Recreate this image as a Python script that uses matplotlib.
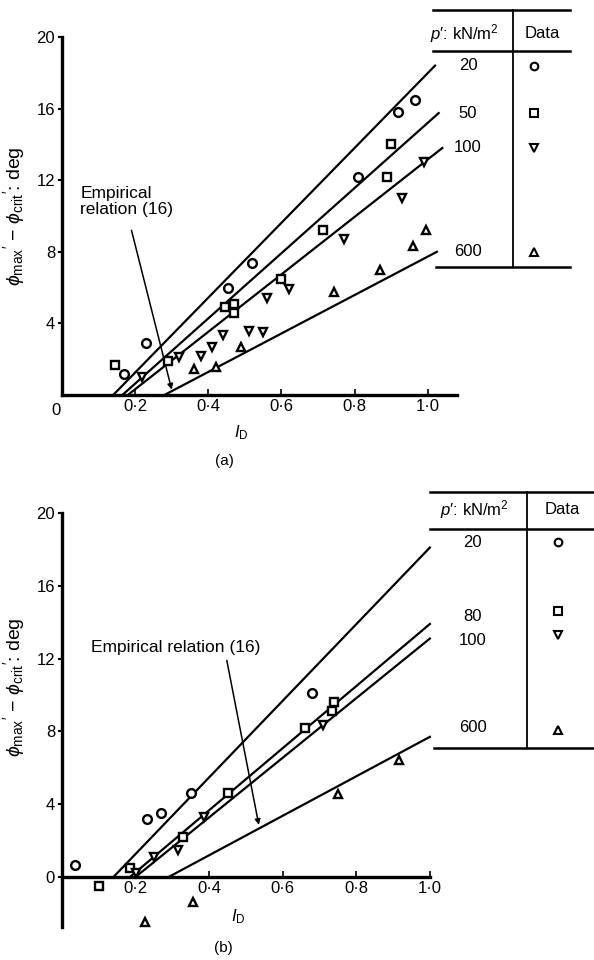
"""
Two-panel chart: phi_max' - phi_crit' against relative density I_D,
with fitted lines per mean stress and a small key table at the right.
"""
import matplotlib
matplotlib.use("Agg")
import matplotlib.pyplot as plt

plt.rcParams["font.family"] = ["Liberation Sans", "DejaVu Sans"]
plt.rcParams["mathtext.fontset"] = "custom"
plt.rcParams["mathtext.rm"] = "Liberation Sans"
plt.rcParams["mathtext.it"] = "Liberation Sans:italic"

# ---- panel (a) data -------------------------------------------------------
a_pressures = ["20", "50", "100", "600"]
a_markers = ["o", "s", "v", "^"]
a_line_x0 = [0.14, 0.165, 0.18, 0.28]          # I_D where line meets 0
a_line_x1 = [1.02, 1.03, 1.04, 1.025]
a_line_y1 = [18.4, 15.75, 13.8, 8.0]

a_c_x = [0.23, 0.17, 0.455, 0.52, 0.81, 0.92, 0.965]
a_c_y = [2.9, 1.2, 6.0, 7.4, 12.2, 15.8, 16.5]
a_s_x = [0.145, 0.29, 0.445, 0.47, 0.47, 0.60, 0.715, 0.89, 0.90]
a_s_y = [1.7, 1.9, 4.9, 5.1, 4.6, 6.5, 9.2, 12.2, 14.0]
a_v_x = [0.22, 0.32, 0.38, 0.41, 0.44, 0.51, 0.55, 0.56, 0.62, 0.77, 0.93, 0.99]
a_v_y = [1.0, 2.1, 2.2, 2.7, 3.35, 3.6, 3.5, 5.4, 5.9, 8.7, 11.0, 13.0]
a_t_x = [0.36, 0.42, 0.49, 0.745, 0.87, 0.96, 0.995]
a_t_y = [1.45, 1.55, 2.7, 5.75, 7.0, 8.3, 9.2]

# ---- panel (b) data -------------------------------------------------------
b_pressures = ["20", "80", "100", "600"]
b_markers = ["o", "s", "v", "^"]
b_line_x0 = [0.14, 0.185, 0.20, 0.29]
b_line_x1 = [1.0, 1.0, 1.0, 1.0]
b_line_y1 = [18.1, 13.9, 13.1, 7.7]
b_row_y = [18.4, 14.3, 13.0, 8.2]
b_mark_y = [18.4, 14.6, 13.3, 8.1]

b_c_x = [0.035, 0.23, 0.27, 0.35, 0.68]
b_c_y = [0.66, 3.2, 3.5, 4.6, 10.1]
b_s_x = [0.10, 0.185, 0.33, 0.45, 0.66, 0.735, 0.74]
b_s_y = [-0.5, 0.5, 2.2, 4.6, 8.2, 9.1, 9.6]
b_v_x = [0.20, 0.25, 0.315, 0.385, 0.71]
b_v_y = [0.2, 1.1, 1.5, 3.3, 8.35]
b_t_x = [0.225, 0.356, 0.75, 0.915]
b_t_y = [-2.5, -1.4, 4.55, 6.4]

x_ticks = [0.2, 0.4, 0.6, 0.8, 1.0]
x_ticklabels = ["0·2", "0·4", "0·6", "0·8", "1·0"]
y_ticks = [4, 8, 12, 16, 20]

YLABEL = r"$\phi_{\rm max}$$'$ $-$ $\phi_{\rm crit}$$'$: deg"
FS = 12
MS = 6.3


def draw_points(ax, xs, ys, marker):
    ax.plot(xs, ys, linestyle="none", marker=marker, ms=MS, mfc="white",
            mec="black", mew=1.7, clip_on=False, zorder=4)


def base_axes(ax, ymin, xend):
    ax.set_xlim(0, 1.4)
    ax.set_ylim(ymin, 20)
    for s in ("top", "right"):
        ax.spines[s].set_visible(False)
    ax.spines["left"].set_linewidth(2.4)
    ax.spines["bottom"].set_linewidth(2.4)
    ax.spines["left"].set_bounds(ymin, 20)
    ax.spines["bottom"].set_bounds(0, xend)
    ax.spines["bottom"].set_position(("data", 0))
    ax.set_xticks(x_ticks)
    ax.set_xticklabels(x_ticklabels, fontsize=FS)
    ax.set_yticks(y_ticks)
    ax.set_yticklabels([str(v) for v in y_ticks], fontsize=FS)
    ax.tick_params(axis="x", direction="in", length=4, width=1.2, pad=3)
    ax.tick_params(axis="y", direction="out", length=3, width=1.5, pad=2)
    ax.set_ylabel(YLABEL, fontsize=FS + 2)


def draw_table(ax, top, hdr, line2, bottom, left, right, vx, hx_p, hx_d,
               labels, label_y, mark_y, markers, vx_lab, mx):
    kw = dict(color="black", clip_on=False)
    ax.plot([left, right], [top, top], lw=1.8, **kw)
    ax.plot([left, right], [line2, line2], lw=1.8, **kw)
    ax.plot([left + 0.01, right], [bottom, bottom], lw=1.8, **kw)
    ax.plot([vx, vx], [top, bottom], lw=1.3, **kw)
    ax.text(hx_p, hdr, r"$p$′: kN/m$^2$", ha="center", va="center",
            fontsize=FS, clip_on=False)
    ax.text(hx_d, hdr, "Data", ha="center", va="center", fontsize=FS,
            clip_on=False)
    for lab, ly, my, m in zip(labels, label_y, mark_y, markers):
        ax.text(vx_lab, ly, lab, ha="center", va="center", fontsize=FS,
                clip_on=False)
        ax.plot([mx], [my], marker=m, ms=5.5, mfc="white", mec="black",
                mew=1.5, clip_on=False)


fig = plt.figure(figsize=(5.94, 9.6), dpi=100)

# ---------------------------- panel (a) -----------------------------------
ax = fig.add_axes([62 / 594, 1 - 395 / 960, 512 / 594, 358 / 960])
base_axes(ax, 0, 1.08)
ax.text(-0.005, -0.85, "0", ha="right", va="center", fontsize=FS)
ax.yaxis.set_label_coords(-0.068, 0.5)
for x0, x1, y1 in zip(a_line_x0, a_line_x1, a_line_y1):
    ax.plot([x0, x1], [0, y1], color="black", lw=1.6, clip_on=False)
draw_points(ax, a_c_x, a_c_y, "o")
draw_points(ax, a_s_x, a_s_y, "s")
draw_points(ax, a_v_x, a_v_y, "v")
draw_points(ax, a_t_x, a_t_y, "^")
ax.annotate("", xy=(0.30, 0.3), xytext=(0.19, 9.2),
            arrowprops=dict(arrowstyle="-|>", lw=1.1, color="black",
                            mutation_scale=8, shrinkA=0, shrinkB=0))
ax.text(0.05, 10.8, "Empirical\nrelation (16)", ha="left", va="center",
        fontsize=FS + 0.5, linespacing=1.1)
ax.text(0.49, -2.1, r"$I_{\rm D}$", ha="center", va="center", fontsize=FS)
ax.text(0.445, -3.7, "(a)", ha="center", va="center", fontsize=FS - 1)
draw_table(ax, top=21.5, hdr=20.2, line2=19.2, bottom=7.15,
           left=1.014, right=1.388, vx=1.232, hx_p=1.10, hx_d=1.314,
           labels=a_pressures, label_y=a_line_y1, mark_y=a_line_y1,
           markers=a_markers, vx_lab=1.11, mx=1.29)

# ---------------------------- panel (b) -----------------------------------
bx = fig.add_axes([62 / 594, 1 - 927 / 960, 515 / 594, 414 / 960])
base_axes(bx, -2.75, 1.0)
bx.set_yticks([0] + y_ticks)
bx.set_yticklabels(["0"] + [str(v) for v in y_ticks], fontsize=FS)
bx.yaxis.set_label_coords(-0.068, 0.58)
for x0, x1, y1 in zip(b_line_x0, b_line_x1, b_line_y1):
    bx.plot([x0, x1], [0, y1], color="black", lw=1.6, clip_on=False)
draw_points(bx, b_c_x, b_c_y, "o")
draw_points(bx, b_s_x, b_s_y, "s")
draw_points(bx, b_v_x, b_v_y, "v")
draw_points(bx, b_t_x, b_t_y, "^")
bx.annotate("", xy=(0.535, 2.86), xytext=(0.448, 11.9),
            arrowprops=dict(arrowstyle="-|>", lw=1.1, color="black",
                            mutation_scale=8, shrinkA=0, shrinkB=0))
bx.text(0.08, 12.6, "Empirical relation (16)", ha="left", va="center",
        fontsize=FS + 0.5)
bx.text(0.48, -2.2, r"$I_{\rm D}$", ha="center", va="center", fontsize=FS)
bx.text(0.44, -3.9, "(b)", ha="center", va="center", fontsize=FS - 1)
draw_table(bx, top=21.15, hdr=20.2, line2=19.1, bottom=7.1,
           left=1.0, right=1.443, vx=1.264, hx_p=1.12, hx_d=1.36,
           labels=b_pressures, label_y=b_row_y, mark_y=b_mark_y,
           markers=b_markers, vx_lab=1.117, mx=1.348)

fig.savefig("out.png", dpi=100)
